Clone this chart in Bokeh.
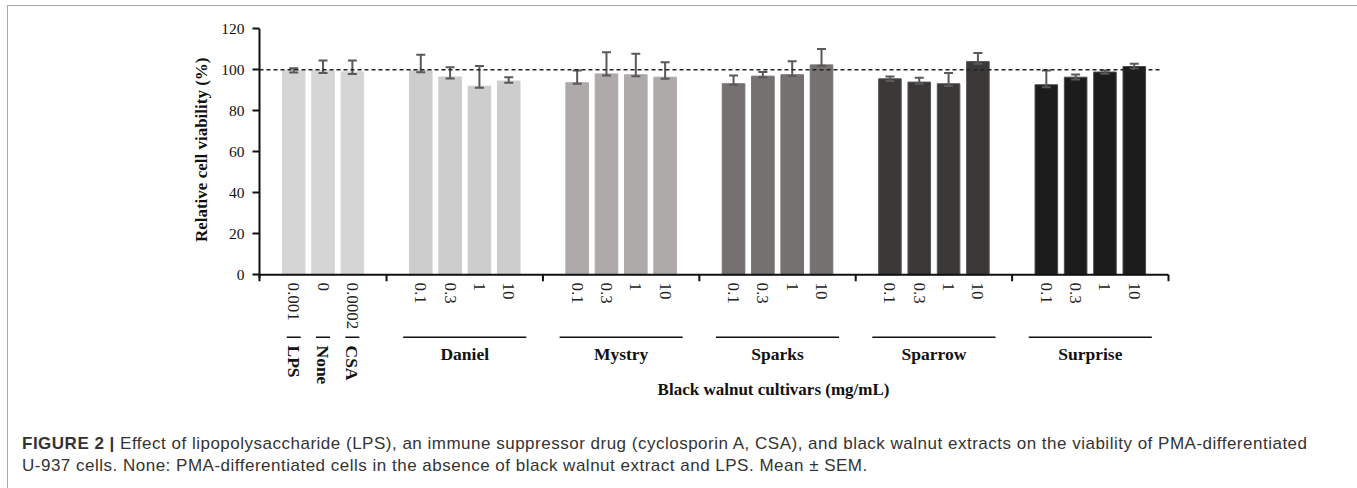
import math
from bokeh.plotting import figure
from bokeh.models import Range1d, FixedTicker, ColumnDataSource, Div, Title
from bokeh.layouts import column
from bokeh.core.properties import value
from bokeh.embed import file_html
from bokeh.resources import INLINE

# ---------------- data ----------------
control_names = ["LPS", "None", "CSA"]
control_doses = ["0.001", "0", "0.0002"]
control_mean = [99.5, 99.5, 99.0]
control_err_plus = [1.2, 5.0, 5.5]
control_err_minus = [0.8, 1.0, 1.0]
control_color = "#d5d5d5"

cultivar_names = ["Daniel", "Mystry", "Sparks", "Sparrow", "Surprise"]
cultivar_doses = ["0.1", "0.3", "1", "10"]
daniel_mean = [99.8, 96.5, 92.0, 94.5]
mystry_mean = [93.7, 98.0, 97.6, 96.4]
sparks_mean = [93.2, 96.9, 97.6, 102.4]
sparrow_mean = [95.6, 94.0, 93.2, 104.0]
surprise_mean = [92.7, 96.4, 98.9, 101.6]
daniel_err_plus = [7.5, 4.8, 9.8, 1.9]
mystry_err_plus = [6.0, 10.6, 10.2, 7.3]
sparks_err_plus = [4.0, 2.0, 6.6, 7.8]
sparrow_err_plus = [1.1, 2.1, 5.2, 4.2]
surprise_err_plus = [7.0, 1.3, 0.8, 1.3]
daniel_err_minus = [1.0, 0.8, 0.8, 0.8]
mystry_err_minus = [0.5, 0.8, 0.8, 0.8]
sparks_err_minus = [0.5, 0.5, 0.6, 0.4]
sparrow_err_minus = [1.1, 0.8, 1.1, 1.0]
surprise_err_minus = [1.2, 1.1, 0.8, 1.1]
cultivar_colors = ["#cdcdcd", "#aeaaaa", "#767171", "#3b3838", "#1c1c1c"]
cultivar_edges = ["#cdcdcd", "#aeaaaa", "#767171", "#585454", "#4a4a4a"]

y_ticks = [0, 20, 40, 60, 80, 100, 120]
reference_level = 100
y_title = "Relative cell viability (%)"
x_title = "Black walnut cultivars (mg/mL)"
caption_bold = "FIGURE 2 |"
caption_line1 = ("Effect of lipopolysaccharide (LPS), an immune suppressor drug "
                 "(cyclosporin A, CSA), and black walnut extracts on the viability of PMA-differentiated")
caption_line2 = ("U-937 cells. None: PMA-differentiated cells in the absence of black walnut "
                 "extract and LPS. Mean \u00b1 SEM.")

cult_means = [daniel_mean, mystry_mean, sparks_mean, sparrow_mean, surprise_mean]
cult_plus = [daniel_err_plus, mystry_err_plus, sparks_err_plus, sparrow_err_plus, surprise_err_plus]
cult_minus = [daniel_err_minus, mystry_err_minus, sparks_err_minus, sparrow_err_minus, surprise_err_minus]

# ---------------- layout (pixels -> data units) ----------------
PX_X = 29.32   # px per category slot
PX_Y = 2.05    # px per percent
BAR_W = 0.77
CAP = 4.5 / PX_X
PAD = 2.0 / 3.0
Y0_PAGE = 274.3  # page y of value 0
X0_PAGE = 259.0  # page x of the y axis

xs, tops, lo, hi, fills, edges, dose_lab = [], [], [], [], [], [], []
separators = [0.0]
single_x = []
group_spans = []

start = 0.0
for j in range(len(control_names)):
    x = start + PAD + 0.5 + j
    xs.append(x); tops.append(control_mean[j])
    lo.append(control_mean[j] - control_err_minus[j]); hi.append(control_mean[j] + control_err_plus[j])
    fills.append(control_color); edges.append(control_color); dose_lab.append(control_doses[j])
    single_x.append(x)
start = start + len(control_names) + 2 * PAD
separators.append(start)
for g in range(len(cultivar_names)):
    gx = []
    for j in range(len(cultivar_doses)):
        x = start + PAD + 0.5 + j
        gx.append(x)
        m = cult_means[g][j]
        xs.append(x); tops.append(m)
        lo.append(m - cult_minus[g][j]); hi.append(m + cult_plus[g][j])
        fills.append(cultivar_colors[g]); edges.append(cultivar_edges[g]); dose_lab.append(cultivar_doses[j])
    group_spans.append((gx[0], gx[-1]))
    start = start + len(cultivar_doses) + 2 * PAD
    separators.append(start)
x_end = start

src = ColumnDataSource(dict(x=xs, top=tops, lo=lo, hi=hi, fill=fills, edge=edges,
                            x0=[v - CAP for v in xs], x1=[v + CAP for v in xs], dose=dose_lab))

def ypx(page_y):
    return -(page_y - Y0_PAGE) / PX_Y

def xpx(page_x):
    return (page_x - X0_PAGE) / PX_X

frame_top_page = 27
frame_h = 377
y_top = (Y0_PAGE - frame_top_page) / PX_Y
p = figure(width=1346, height=420, output_backend="svg", toolbar_location=None,
           x_range=Range1d(-2.0 / PX_X, x_end + 4.0 / PX_X),
           y_range=Range1d(y_top - frame_h / PX_Y, y_top),
           x_axis_location=None, min_border_left=249, min_border_right=182,
           min_border_top=21, min_border_bottom=22)
p.outline_line_color = None
p.grid.visible = False
p.background_fill_color = "white"
p.border_fill_color = "white"

serif = "Liberation Serif"
ax = p.yaxis[0]
ax.ticker = FixedTicker(ticks=y_ticks)
ax.axis_line_color = None
ax.major_tick_in = 2
ax.major_tick_out = 5
ax.major_tick_line_width = 2
ax.major_tick_line_color = "#111111"
ax.minor_tick_line_color = None
ax.major_label_standoff = 8
ax.major_label_text_font = serif
ax.major_label_text_font_size = "15.5px"
ax.major_label_text_color = "#111111"

ytitle = Title(text=y_title, align="right", offset=30, standoff=16,
               text_font=serif, text_font_size="17px", text_font_style="bold",
               text_color="#111111")
p.add_layout(ytitle, "left")

# bars
p.vbar(x="x", top="top", bottom=0, width=BAR_W, fill_color="fill", line_color="edge",
       line_width=1, source=src)
# error bars
ecol = "#595959"
p.segment(x0="x", y0="lo", x1="x", y1="hi", line_color=ecol, line_width=2, source=src)
p.segment(x0="x0", y0="hi", x1="x1", y1="hi", line_color=ecol, line_width=2, source=src)
p.segment(x0="x0", y0="lo", x1="x1", y1="lo", line_color=ecol, line_width=2, source=src)

# reference line
p.segment(x0=[0], y0=[reference_level], x1=[x_end - 6.0 / PX_X], y1=[reference_level],
          line_color="#222222", line_width=1.5, line_dash="4 3")

# axes lines
p.segment(x0=[0], y0=[0], x1=[x_end], y1=[0], line_color="#111111", line_width=2)
p.segment(x0=[0], y0=[-3 / PX_Y], x1=[0], y1=[y_ticks[-1]], line_color="#111111", line_width=2)
p.segment(x0=separators, y0=[0] * len(separators), x1=separators,
          y1=[-6.5 / PX_Y] * len(separators), line_color="#111111", line_width=2)

# dose labels
p.text(x="x", y=ypx(282), text="dose", angle=-math.pi / 2, text_align="left",
       text_baseline="middle", text_font=value(serif), text_font_size="17px",
       text_color="#222222", source=src)

# group lines
line_y = ypx(336.7)
p.segment(x0=[v - 7 / PX_X for v in single_x], y0=[line_y] * len(single_x),
          x1=[v + 7 / PX_X for v in single_x], y1=[line_y] * len(single_x),
          line_color="#111111", line_width=1.5)
p.segment(x0=[a - 0.6 for a, b in group_spans], y0=[line_y] * len(group_spans),
          x1=[b + 0.6 for a, b in group_spans], y1=[line_y] * len(group_spans),
          line_color="#111111", line_width=1.5)

# group labels
p.text(x=single_x, y=[ypx(345)] * len(single_x), text=control_names,
       angle=-math.pi / 2, text_align="left", text_baseline="middle",
       text_font=value(serif), text_font_style="bold", text_font_size="17.5px",
       text_color="#111111")
p.text(x=[(a + b) / 2 for a, b in group_spans], y=[ypx(353)] * len(group_spans),
       text=cultivar_names, text_align="center", text_baseline="middle",
       text_font=value(serif), text_font_style="bold", text_font_size="17.5px",
       text_color="#111111")

# x title
p.text(x=[xpx(773)], y=[ypx(389)], text=[x_title],
       text_align="center", text_baseline="middle", text_font=value(serif),
       text_font_style="bold", text_font_size="17px", text_color="#111111")

cap = Div(width=1346, height=61, text=(
    '<div style="padding:2px 0 0 9px; font-family:\'Liberation Sans\'; font-size:17px; '
    'letter-spacing:0.5px; line-height:22px; color:#333333; white-space:nowrap;">'
    '<b>' + caption_bold + '</b> ' + caption_line1 + '<br>' + caption_line2 + '</div>'))

layout = column(p, cap, styles={"margin-left": "7px", "margin-top": "5px",
                                "border": "1px solid #a8a8a8", "border-bottom": "none"})
open("out.html", "w").write(file_html(layout, INLINE))
